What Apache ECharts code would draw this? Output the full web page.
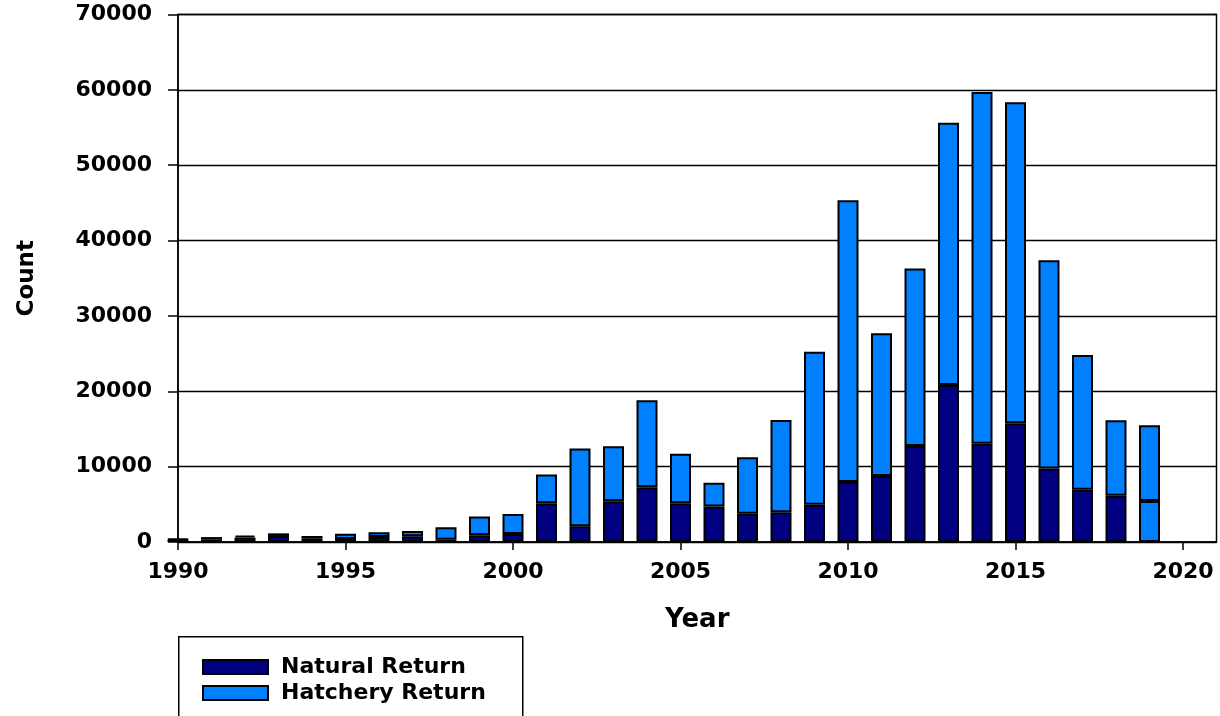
<!DOCTYPE html>
<html>
<head>
<meta charset="utf-8">
<script src="https://cdn.jsdelivr.net/npm/echarts@6/dist/echarts.min.js"></script>
<style>
html,body{margin:0;padding:0;background:#fff;}
#chart{width:1220px;height:716px;}
</style>
</head>
<body>
<div id="chart"></div>
<script>
const years = [1990,1991,1992,1993,1994,1995,1996,1997,1998,1999,2000,2001,2002,2003,2004,2005,2006,2007,2008,2009,2010,2011,2012,2013,2014,2015,2016,2017,2018,2019,2020,2021];
const naturalReturn = [300,300,600,800,500,400,650,750,300,900,1050,5150,2100,5400,7250,5150,4700,3750,3950,4950,7950,8750,12750,20850,13050,15750,9750,6950,6150,5450,null,null];
const hatcheryReturn = [100,350,250,350,300,700,650,700,1650,2500,2650,3800,10300,7300,11550,6550,3150,7500,12250,20300,37400,18950,23550,34800,46650,42600,27650,17850,10000,10050,null,null];
const yTicks = [0,10000,20000,30000,40000,50000,60000,70000];
const unconfirmedYears = [2019];

const NAVY = '#000080';
const BLUE = '#0080ff';
const FONT = 'DejaVu Sans';

const chart = echarts.init(document.getElementById('chart'), null, {renderer:'canvas'});

const natData = years.map((y,i) => {
  if (unconfirmedYears.includes(y)) return {value: naturalReturn[i], itemStyle:{color: BLUE}};
  return naturalReturn[i];
});

chart.setOption({
  animation:false,
  backgroundColor:'#fff',
  grid:{left:178, top:14.5, right:3.5, bottom:174, show:true, borderColor:'#000', borderWidth:1.5, containLabel:false},
  xAxis:{
    type:'category', data:years.map(String), boundaryGap:false,
    name:'Year', nameLocation:'middle', nameGap:65,
    nameTextStyle:{fontFamily:FONT, fontWeight:'bold', fontSize:26, color:'#000'},
    axisLine:{show:true, onZero:false, lineStyle:{color:'#000', width:1.5}},
    axisTick:{show:true, length:8, interval:4, lineStyle:{color:'#000', width:1.5}},
    axisLabel:{interval:4, margin:19, fontFamily:FONT, fontWeight:'bold', fontSize:22, color:'#000'},
    splitLine:{show:false}
  },
  yAxis:{
    type:'value', min:yTicks[0], max:yTicks[yTicks.length-1], interval:10000,
    name:'Count', nameLocation:'middle', nameGap:139, nameRotate:90,
    nameTextStyle:{fontFamily:FONT, fontWeight:'bold', fontSize:23, color:'#000'},
    axisLine:{show:true, lineStyle:{color:'#000', width:1.5}},
    axisTick:{show:true, length:10, lineStyle:{color:'#000', width:1.5}},
    axisLabel:{margin:26, fontFamily:FONT, fontWeight:'bold', fontSize:22, color:'#000', formatter:v=>String(v)},
    splitLine:{show:true, lineStyle:{color:'#000', width:1.3}}
  },
  legend:{
    orient:'vertical', left:197, top:651,
    itemWidth:65, itemHeight:14, itemGap:4,
    icon:'rect',
    itemStyle:{borderColor:'#000', borderWidth:2},
    textStyle:{fontFamily:FONT, fontWeight:'bold', fontSize:22, color:'#000', lineHeight:20, padding:[0,0,0,8]},
    data:['Natural Return','Hatchery Return']
  },
  graphic:[{
    type:'rect', left:178, top:636, z:-1,
    shape:{width:344, height:100},
    style:{fill:'#fff', stroke:'#000', lineWidth:1.5}
  }],
  series:[
    {name:'Natural Return', type:'bar', stack:'total', barWidth:21, clip:false, data:natData,
     itemStyle:{color:NAVY, borderColor:'#000', borderWidth:2}},
    {name:'Hatchery Return', type:'bar', stack:'total', barWidth:21, clip:false, data:hatcheryReturn,
     itemStyle:{color:BLUE, borderColor:'#000', borderWidth:2}}
  ]
});
</script>
</body>
</html>
